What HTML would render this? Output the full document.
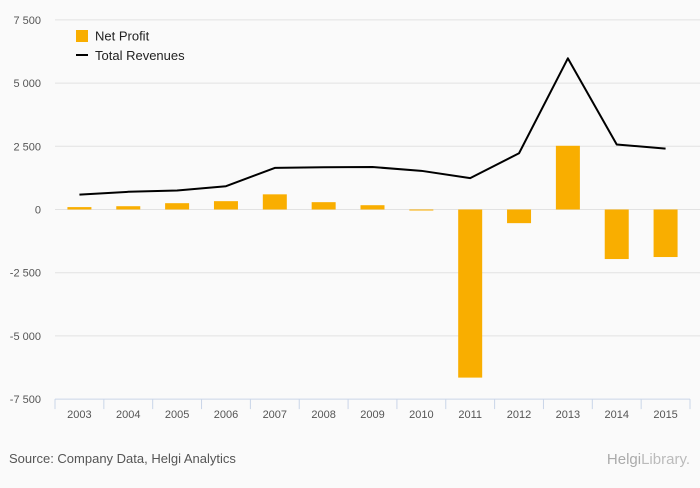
<!DOCTYPE html>
<html><head><meta charset="utf-8">
<style>
body{margin:0;background:#fafafa;font-family:"Liberation Sans",sans-serif;}
svg text{font-family:"Liberation Sans",sans-serif;}
</style></head>
<body>
<svg id="chart" width="700" height="483" viewBox="0 0 700 483" xmlns="http://www.w3.org/2000/svg">
<rect x="0" y="0" width="700" height="483" fill="#fafafa"/>
<g id="grid"></g>
<g id="ylabels"></g>
<g id="bars"></g>
<g id="line"></g>
<g id="xaxis"></g>
<g>
<rect x="76" y="30" width="12" height="12" fill="#f9ae00"/>
<text x="95" y="40.5" font-size="13" fill="#222">Net Profit</text>
<line x1="76" y1="55" x2="88" y2="55" stroke="#000" stroke-width="2"/>
<text x="95" y="60" font-size="13" fill="#222">Total Revenues</text>
</g>
<text x="9" y="463" font-size="13" fill="#555">Source: Company Data, Helgi Analytics</text>
<text x="690" y="464" font-size="15" fill="#aaa" text-anchor="end">Helgi<tspan fill="#bbb">Library.</tspan></text>
</svg>
<script>
const categories=["2003","2004","2005","2006","2007","2008","2009","2010","2011","2012","2013","2014","2015"];
const netProfit=[95,130,250,330,600,290,170,-40,-6650,-540,2520,-1960,-1880];
const totalRevenues=[590,700,750,920,1645,1670,1680,1530,1240,2225,5980,2570,2410];
const yTicks=[7500,5000,2500,0,-2500,-5000,-7500];
const yTickLabels=["7 500","5 000","2 500","0","-2 500","-5 000","-7 500"];

const NS="http://www.w3.org/2000/svg";
const x0=55,x1=690,band=(x1-x0)/categories.length;
const yZero=209.5,pxPer=63.2/2500;
function xC(i){return x0+band*(i+0.5);}
function y(v){return yZero-v*pxPer;}
function mk(tag,attrs,parent){const e=document.createElementNS(NS,tag);for(const k in attrs)e.setAttribute(k,attrs[k]);parent.appendChild(e);return e;}
const grid=document.getElementById('grid'),yl=document.getElementById('ylabels');
yTicks.forEach((t,i)=>{
  if(t!==-7500){const l=mk('line',{x1:x0,x2:700,y1:y(t),y2:y(t),stroke:'#e2e2e2','stroke-width':1},grid);
  
  }
  const tx=mk('text',{x:41,y:y(t)+4,'font-size':11,fill:'#555','text-anchor':'end'},yl);
  tx.textContent=yTickLabels[i];
  
  
});
const bars=document.getElementById('bars');
netProfit.forEach((v,i)=>{
  const r=mk('rect',{x:xC(i)-12,y:Math.min(y(v),y(0)),width:24,height:Math.abs(y(v)-y(0)),fill:'#f9ae00'},bars);
  
  
});
const lg=document.getElementById('line');
const p=mk('polyline',{points:totalRevenues.map((v,i)=>xC(i)+','+y(v)).join(' '),fill:'none',stroke:'#000','stroke-width':2,'stroke-linejoin':'round'},lg);


const xa=document.getElementById('xaxis');
const yb=y(-7500);
const al=mk('line',{x1:x0,x2:x1,y1:yb,y2:yb,stroke:'#c9d5e8','stroke-width':1},xa);


for(let i=0;i<=categories.length;i++){
  const tk=mk('line',{x1:x0+band*i,x2:x0+band*i,y1:yb,y2:yb+10,stroke:'#c9d5e8','stroke-width':1},xa);
  
  
}
categories.forEach((c,i)=>{
  const t=mk('text',{x:xC(i),y:yb+19,'font-size':11,fill:'#555','text-anchor':'middle'},xa);
  t.textContent=c;
  
  
});
</script>
</body></html>
